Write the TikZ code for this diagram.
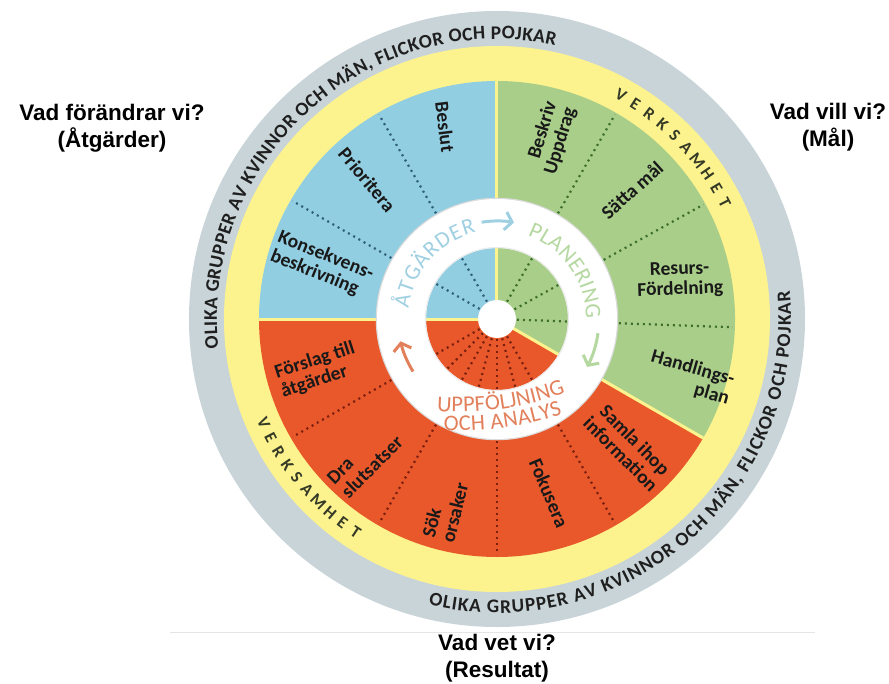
\documentclass[tikz,border=0pt]{standalone}
\usepackage{fontspec}
\setmainfont{Carlito}
\newfontfamily\arialf{Liberation Sans}
\usetikzlibrary{decorations.text,arrows.meta}
\definecolor{ringgray}{HTML}{C8D4D8}
\definecolor{ringyellow}{HTML}{FDF38E}
\definecolor{secblue}{HTML}{91CEE1}
\definecolor{secgreen}{HTML}{A8CE89}
\definecolor{secred}{HTML}{E9582B}
\definecolor{dotblue}{HTML}{2F5F7A}
\definecolor{dotgreen}{HTML}{3E6E2E}
\definecolor{dotred}{HTML}{7A2010}
\definecolor{txtblue}{HTML}{9FD0E2}
\definecolor{txtgreen}{HTML}{B5D8A0}
\definecolor{txtred}{HTML}{E3805C}
\definecolor{verkc}{HTML}{353A26}
\newcommand\ringfont{\bfseries\fontsize{19.3}{19.3}\selectfont}
\newcommand\cycfont{\fontsize{22.5}{22.5}\selectfont}
\begin{document}
\begin{tikzpicture}[x=1pt,y=1pt,
  lbl/.style={font=\bfseries\fontsize{19.5}{20}\selectfont, text=black!90, inner sep=0pt},
  outer/.style={font=\arialf\bfseries\fontsize{22.5}{27}\selectfont, align=center, inner sep=0pt},
  verkletter/.style={font=\bfseries\fontsize{17}{17}\selectfont, text=verkc, inner sep=0pt},
  divider/.style={line width=2.2pt, dash pattern=on 2pt off 4pt},
  sep/.style={ringyellow, line width=3pt},
  cyc/.style={line width=3pt, -{Straight Barb[length=7pt,width=18pt]}},
  ringtext/.style={decorate, decoration={text along path, text align={fit to path}, text color=black!88, text={|\ringfont|#1}}},
  cyctext/.style 2 args={decorate, decoration={text along path, text align={fit to path}, text color=#1, text={|\cycfont|#2}}},
]
\useasboundingbox (-497pt,319pt) rectangle (392pt,-364pt);
\fill[white] (-497pt,319pt) rectangle (392pt,-364pt);

% rings
\fill[ringgray] (0,0) circle (308pt);
\fill[ringyellow] (0,0) circle (273pt);

% sectors
\fill[secblue] (0,0) -- (90:238pt) arc[start angle=90, end angle=180, radius=238pt] -- cycle;
\fill[secgreen] (0,0) -- (-30:238pt) arc[start angle=-30, end angle=90, radius=238pt] -- cycle;
\fill[secred] (0,0) -- (180:238pt) arc[start angle=180, end angle=330, radius=238pt] -- cycle;

% dotted dividers
\foreach \a in {120,150} \draw[divider, dotblue] (\a:20pt) -- (\a:236pt);
\foreach \a in {60,29,-2} \draw[divider, dotgreen] (\a:20pt) -- (\a:236pt);
\foreach \a in {210,240,270,300} \draw[divider, dotred] (\a:20pt) -- (\a:236pt);
\foreach \a in {225,255,285} \draw[divider, dotred] (\a:20pt) -- (\a:70pt);

% yellow separators
\foreach \a in {90,180,-30} \draw[sep] (0,0) -- (\a:238pt);

% white ring and hole
\draw[black!14, line width=2.5pt] (0,0) circle (120pt);
\fill[white, even odd rule] (0,0) circle (120pt) (0,0) circle (71pt);
\draw[black!8, line width=1pt] (0,0) circle (71.5pt);
\fill[white] (0,0) circle (19pt);

% gray ring text
\path[ringtext={OLIKA GRUPPER AV KVINNOR OCH MÄN, FLICKOR OCH POJKAR}] (186:280pt) arc[start angle=186, end angle=78, radius=280pt];
\path[ringtext={OLIKA GRUPPER AV KVINNOR OCH MÄN, FLICKOR OCH POJKAR}] (256.5:294pt) arc[start angle=256.5, end angle=365.5, radius=294pt];

% yellow ring text (letter by letter)
\foreach \ch [count=\i from 0] in {V,E,R,K,S,A,M,H,E,T} {
  \pgfmathsetmacro\ang{61-\i*34/9}
  \node[verkletter, rotate=\ang-90] (vu\i) at (\ang:255.5pt) {\ch};
  \pgfmathsetmacro\angb{204+\i*32.4/9}
  \node[verkletter, rotate=\angb+90] (vl\i) at (\angb:255.5pt) {\ch};
}

% cycle texts
\path[cyctext={txtblue}{ÅTGÄRDER}] (173:89pt) arc[start angle=173, end angle=103.5, radius=89pt];
\path[cyctext={txtgreen}{PLANERING}] (70:89pt) arc[start angle=70, end angle=0, radius=89pt];
\path[cyctext={txtred}{UPPFÖLJNING}] (-60.2pt,-92pt) arc[start angle=265.5, end angle=290.5, radius=300pt];
\path[cyctext={txtred}{OCH ANALYS}] (-53.4pt,-111.5pt) arc[start angle=267, end angle=288.7, radius=319pt];

% cycle arrows
\draw[cyc, txtblue] (99:98pt) arc[start angle=99, end angle=80, radius=98pt];
\draw[cyc, txtgreen] (-8:102pt) arc[start angle=-8, end angle=-28, radius=102pt];
\draw[cyc, txtred] (212:99pt) arc[start angle=212, end angle=193, radius=99pt];

% sector labels
\node[lbl, rotate=-83] (beslut) at (-52,192) {Beslut};
\node[lbl, rotate=-50] (prio) at (-130,139) {Prioritera};
\node[lbl, rotate=-22, align=left] (kons) at (-175,54) {Konsekvens-\\beskrivning};
\node[lbl, rotate=73, align=right] (besk) at (54,181) {Beskriv\\Uppdrag};
\node[lbl, rotate=42] (satta) at (135,129) {Sätta mål};
\node[lbl, rotate=2, align=center] (resurs) at (183,39) {Resurs-\\Fördelning};
\node[lbl, rotate=-16, align=right] (handl) at (193,-59) {Handlings-\\plan};
\node[lbl, rotate=-45, align=center] (samla) at (131,-128) {Samla ihop\\information};
\node[lbl, rotate=-67] (fok) at (52,-174) {Fokusera};
\node[lbl, rotate=76, align=left] (sok) at (-52,-191) {Sök\\orsaker};
\node[lbl, rotate=45, align=left] (dra) at (-132,-141) {Dra\\slutsatser};
\node[lbl, rotate=18, align=left] (forslag) at (-179,-51) {Förslag till\\åtgärder};

% outer questions
\node[outer] (qa) at (-385,191) {Vad förändrar vi?\\(Åtgärder)};
\node[outer] (qb) at (331,192) {Vad vill vi?\\(Mål)};
\node[outer] (qc) at (0,-339) {Vad vet vi?\\(Resultat)};

% faint baseline rule
\coordinate (rl) at (-327,-313);
\coordinate (rr) at (318,-313);
\draw[black!10, line width=0.8pt] (rl) -- (rr);
\end{tikzpicture}
\end{document}
